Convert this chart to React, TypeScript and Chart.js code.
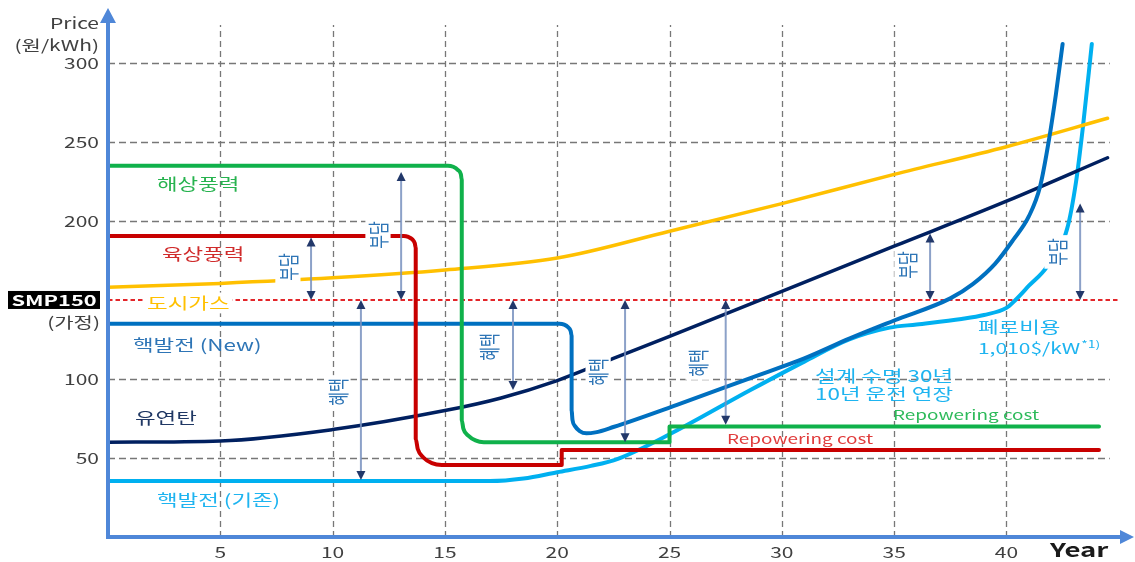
import React, { useEffect, useRef } from 'react';
import { Chart, registerables } from 'chart.js';
Chart.register(...registerables);

// ---------- data ----------
const xTickValues = [5, 10, 15, 20, 25, 30, 35, 40];
const yTickValues = [50, 100, 200, 250, 300];
const smpValue = 150;
const xMax = 45.5;
const yMax = 333.5;

// 해상풍력 (offshore wind)
const offshoreWind: number[][] = [
  [0, 235], [15.13, 235], [15.37, 234.3], [15.57, 232.4], [15.71, 229.5], [15.75, 226.1],
  [15.75, 73.9], [15.82, 68.6], [16.04, 64.1], [16.36, 61.1], [16.73, 60],
  [25, 60], [25, 70], [44.12, 70],
];
// 육상풍력 (onshore wind)
const onshoreWind: number[][] = [
  [0, 190.5], [13.17, 190.5], [13.37, 189.9], [13.55, 188.3], [13.66, 185.8], [13.7, 182.9],
  [13.7, 62], [13.79, 55.7], [14.04, 50.3], [14.42, 46.7], [14.86, 45.5],
  [20.2, 45.5], [20.2, 55], [44.12, 55],
];
// 도시가스 (city gas)
const cityGas: number[][] = [
  [0, 158], [5, 160.5], [10, 164], [15, 169], [20, 176.5], [25, 193.5], [30, 211], [35, 229.5], [40, 247], [44.5, 265],
];
// 유연탄 (coal)
const coal: number[][] = [
  [0, 60], [5, 60.8], [10, 68], [15, 80], [17.5, 88], [20, 99], [22.5, 113], [25, 127], [30, 155.5], [35, 184], [40, 212.5], [44.5, 240],
];
// 핵발전 (New)
const nuclearNew: number[][] = [
  [0, 135], [20.1, 135], [20.31, 134.4], [20.48, 132.8], [20.6, 130.3], [20.64, 127.4],
  [20.64, 80], [20.68, 74], [20.8, 70], [21.0, 67], [21.3, 65.6], [21.7, 66.2], [22.5, 69.6],
  [25.3, 83.5], [28.6, 100.6], [31, 113], [33, 125.5], [35, 137], [37.5, 151], [38.5, 160],
  [39.5, 173], [40.3, 188], [41, 203], [41.5, 222], [41.9, 252], [42.2, 280], [42.5, 312],
];
// 핵발전 (기존)
const nuclearOld: number[][] = [
  [0, 35.4], [17, 35.4], [18.5, 37], [20, 41], [21.5, 45], [22.7, 49.5], [25, 65], [28.6, 93],
  [31, 111], [33, 125], [34.8, 132.5], [36, 134.5], [38, 138], [39, 140.5], [40, 145], [40.4, 150],
  [41, 159], [41.8, 171], [42.7, 195], [43.1, 225], [43.4, 259], [43.8, 312],
];

// benefit / burden arrows: x, top value, bottom value
const arrowX = [9.04, 13.05, 11.26, 18.03, 23.02, 27.5, 36.6, 43.28];
const arrowTop = [189.5, 231, 150, 150, 150, 150, 192, 211];
const arrowBottom = [150, 150, 36, 93, 60, 71, 150, 150];
const arrowLabel = ['부담', '부담', '혜택', '혜택', '혜택', '혜택', '부담', '부담'];
const arrowLabelX = [8.01, 12.02, 10.24, 16.96, 21.82, 26.27, 35.57, 42.25];
const arrowLabelY = [170.9, 191.1, 91.8, 120.3, 104.4, 110.1, 172.2, 180.4];

const KR = '"Noto Sans CJK KR", "Noto Sans", sans-serif';
const AXIS_BLUE = '#4F87D8';

type TextOpt = { size: number; color: string; align?: CanvasTextAlign; sx?: number; weight?: string; bg?: boolean };

function drawText(ctx: CanvasRenderingContext2D, s: string, x: number, y: number, o: TextOpt) {
  ctx.save();
  ctx.font = `${o.weight || 'normal'} ${o.size}px ${KR}`;
  ctx.textBaseline = 'middle';
  const align = o.align || 'left';
  ctx.textAlign = align;
  const sx = o.sx ?? 1.4;
  const w = ctx.measureText(s).width * sx;
  if (o.bg) {
    let left = x;
    if (align === 'center') left = x - w / 2;
    if (align === 'right') left = x - w;
    ctx.fillStyle = '#ffffff';
    ctx.fillRect(left - 3, y - o.size * 0.65, w + 6, o.size * 1.3);
  }
  ctx.translate(x, y);
  ctx.scale(sx, 1);
  ctx.fillStyle = o.color;
  ctx.fillText(s, 0, 0);
  ctx.restore();
  return w;
}

function drawRotated(ctx: CanvasRenderingContext2D, s: string, cx: number, cy: number, size: number, color: string) {
  ctx.save();
  ctx.translate(cx, cy);
  ctx.scale(1.4, 1);
  ctx.rotate(-Math.PI / 2);
  ctx.font = `${size}px ${KR}`;
  ctx.textAlign = 'center';
  ctx.textBaseline = 'middle';
  const w = ctx.measureText(s).width;
  ctx.fillStyle = '#ffffff';
  ctx.fillRect(-w / 2 - 3, -size * 0.6, w + 6, size * 1.2);
  ctx.fillStyle = color;
  ctx.fillText(s, 0, 0);
  ctx.restore();
}

function drawArrow(ctx: CanvasRenderingContext2D, x: number, yTop: number, yBot: number) {
  const head = 9;
  const hw = 4.5;
  ctx.save();
  ctx.strokeStyle = 'rgba(120,145,190,0.85)';
  ctx.lineWidth = 2;
  ctx.beginPath();
  ctx.moveTo(x, yTop + head - 1);
  ctx.lineTo(x, yBot - head + 1);
  ctx.stroke();
  ctx.fillStyle = '#22386A';
  ctx.beginPath();
  ctx.moveTo(x, yTop);
  ctx.lineTo(x - hw, yTop + head);
  ctx.lineTo(x + hw, yTop + head);
  ctx.closePath();
  ctx.fill();
  ctx.beginPath();
  ctx.moveTo(x, yBot);
  ctx.lineTo(x - hw, yBot - head);
  ctx.lineTo(x + hw, yBot - head);
  ctx.closePath();
  ctx.fill();
  ctx.restore();
}

const decorPlugin = {
  id: 'decor',
  beforeDatasetsDraw(chart: any) {
    const ctx: CanvasRenderingContext2D = chart.ctx;
    const xs = chart.scales.x;
    const ys = chart.scales.y;
    const ca = chart.chartArea;
    ctx.save();
    ctx.strokeStyle = '#777777';
    ctx.lineWidth = 1.3;
    // horizontal grid
    ctx.setLineDash([7, 4]);
    for (const v of yTickValues) {
      const py = Math.round(ys.getPixelForValue(v)) + 0.5;
      ctx.beginPath();
      ctx.moveTo(ca.left, py);
      ctx.lineTo(xs.getPixelForValue(44.6), py);
      ctx.stroke();
    }
    // vertical grid
    ctx.setLineDash([6, 4]);
    for (const v of xTickValues) {
      const px = Math.round(xs.getPixelForValue(v)) + 0.5;
      ctx.beginPath();
      ctx.moveTo(px, ca.bottom);
      ctx.lineTo(px, ys.getPixelForValue(324));
      ctx.stroke();
    }
    // SMP line
    ctx.strokeStyle = '#E3262A';
    ctx.lineWidth = 2;
    ctx.setLineDash([4.5, 3]);
    const sy = ys.getPixelForValue(smpValue);
    ctx.beginPath();
    ctx.moveTo(ca.left, sy);
    ctx.lineTo(xs.getPixelForValue(45.06), sy);
    ctx.stroke();
    ctx.restore();
  },
  afterDatasetsDraw(chart: any) {
    const ctx: CanvasRenderingContext2D = chart.ctx;
    const xs = chart.scales.x;
    const ys = chart.scales.y;
    const ca = chart.chartArea;
    const X = (v: number) => xs.getPixelForValue(v);
    const Y = (v: number) => ys.getPixelForValue(v);

    // arrows
    for (let i = 0; i < arrowX.length; i++) {
      drawArrow(ctx, X(arrowX[i]), Y(arrowTop[i]), Y(arrowBottom[i]));
    }
    for (let i = 0; i < arrowLabel.length; i++) {
      drawRotated(ctx, arrowLabel[i], X(arrowLabelX[i]), Y(arrowLabelY[i]), 15, '#2E75B6');
    }

    // series labels
    drawText(ctx, '해상풍력', X(2.18), Y(223.4), { size: 16, color: '#27B34F' });
    drawText(ctx, '육상풍력', X(2.4), Y(179.1), { size: 16, color: '#D02C2C' });
    drawText(ctx, '도시가스', X(1.74), Y(148.1), { size: 16, color: '#FFC000', bg: true });
    drawText(ctx, '핵발전 (New)', X(1.11), Y(121.5), { size: 16, color: '#2E75B6' });
    drawText(ctx, '유연탄', X(1.2), Y(75.3), { size: 16, color: '#203864' });
    drawText(ctx, '핵발전 (기존)', X(2.18), Y(23.4), { size: 16, color: '#1EB4F0' });
    drawText(ctx, '설계 수명 30년', X(31.48), Y(101.9), { size: 16, color: '#1EB4F0' });
    drawText(ctx, '10년 운전 연장', X(31.48), Y(90.5), { size: 16, color: '#1EB4F0' });
    drawText(ctx, '폐로비용', X(38.73), Y(132.9), { size: 16, color: '#1EB4F0' });
    const w = drawText(ctx, '1,010$/kW', X(38.73), Y(119.6), { size: 15, color: '#1EB4F0' });
    drawText(ctx, '*1)', X(38.73) + w + 1, Y(121.8), { size: 10, color: '#1EB4F0' });
    drawText(ctx, 'Repowering cost', X(34.95), Y(77.2), { size: 13.5, color: '#2DBA5A' });
    drawText(ctx, 'Repowering cost', X(27.56), Y(62.0), { size: 13.5, color: '#E03C3C' });

    // axes
    ctx.save();
    ctx.strokeStyle = AXIS_BLUE;
    ctx.fillStyle = AXIS_BLUE;
    ctx.lineWidth = 4;
    ctx.setLineDash([]);
    ctx.beginPath();
    ctx.moveTo(ca.left, ca.bottom + 2);
    ctx.lineTo(ca.left, ca.top + 12);
    ctx.stroke();
    ctx.beginPath();
    ctx.moveTo(ca.left, ca.top - 2);
    ctx.lineTo(ca.left - 8, ca.top + 13);
    ctx.lineTo(ca.left + 8, ca.top + 13);
    ctx.closePath();
    ctx.fill();
    ctx.beginPath();
    ctx.moveTo(ca.left - 2, ca.bottom);
    ctx.lineTo(ca.right - 8, ca.bottom);
    ctx.stroke();
    ctx.beginPath();
    ctx.moveTo(ca.right + 4, ca.bottom);
    ctx.lineTo(ca.right - 10, ca.bottom - 7);
    ctx.lineTo(ca.right - 10, ca.bottom + 7);
    ctx.closePath();
    ctx.fill();
    ctx.restore();

    // tick labels
    for (const v of yTickValues) {
      drawText(ctx, String(v), ca.left - 9, Y(v), { size: 15, color: '#404040', align: 'right' });
    }
    for (const v of xTickValues) {
      drawText(ctx, String(v), X(v), ca.bottom + 15, { size: 15, color: '#404040', align: 'center' });
    }
    // SMP label
    ctx.save();
    ctx.fillStyle = '#000000';
    const sy = Y(smpValue);
    ctx.fillRect(8, sy - 9, 92, 18);
    ctx.restore();
    drawText(ctx, 'SMP150', 54, sy, { size: 15, color: '#ffffff', align: 'center', weight: 'bold', sx: 1.45 });
    drawText(ctx, '(가정)', ca.left - 8, sy + 22, { size: 15, color: '#404040', align: 'right' });
    drawText(ctx, 'Price', ca.left - 9, 23, { size: 15, color: '#404040', align: 'right' });
    drawText(ctx, '(원/kWh)', ca.left - 9, 45, { size: 15, color: '#404040', align: 'right' });
    drawText(ctx, 'Year', 1050, ca.bottom + 13, { size: 19, color: '#1a1a1a', weight: 'bold', sx: 1.45 });
  },
};

const toXY = (arr: number[][]) => arr.map(([x, y]) => ({ x, y }));

export default function App() {
  const ref = useRef<HTMLCanvasElement | null>(null);
  useEffect(() => {
    document.body.style.margin = '0';
    const canvas = ref.current;
    if (!canvas) return;
    const mk = (label: string, data: number[][], color: string, width: number) => ({
      label,
      data: toXY(data),
      borderColor: color,
      backgroundColor: color,
      borderWidth: width,
      pointRadius: 0,
      fill: false,
      cubicInterpolationMode: 'monotone' as const,
      borderCapStyle: 'round' as const,
      borderJoinStyle: 'round' as const,
    });
    const chart = new Chart(canvas, {
      type: 'line',
      data: {
        datasets: [
          mk('해상풍력', offshoreWind, '#10B14B', 4),
          mk('육상풍력', onshoreWind, '#C80000', 4),
          mk('핵발전 (New)', nuclearNew, '#0070C0', 4),
          mk('도시가스', cityGas, '#FFC000', 3.5),
          mk('유연탄', coal, '#002060', 3.5),
          mk('핵발전 (기존)', nuclearOld, '#00B0F0', 4),
        ],
      },
      options: {
        animation: false,
        responsive: false,
        layout: { padding: { left: 108, right: 5, top: 10, bottom: 25 } },
        plugins: { legend: { display: false }, tooltip: { enabled: false } },
        scales: {
          x: { type: 'linear', min: 0, max: xMax, display: false },
          y: { type: 'linear', min: 0, max: yMax, display: false },
        },
      },
      plugins: [decorPlugin],
    });
    return () => chart.destroy();
  }, []);
  return (
    <div style={{ width: 1135, height: 562, background: '#fff' }}>
      <canvas ref={ref} width={1135} height={562} style={{ display: 'block' }} />
    </div>
  );
}
